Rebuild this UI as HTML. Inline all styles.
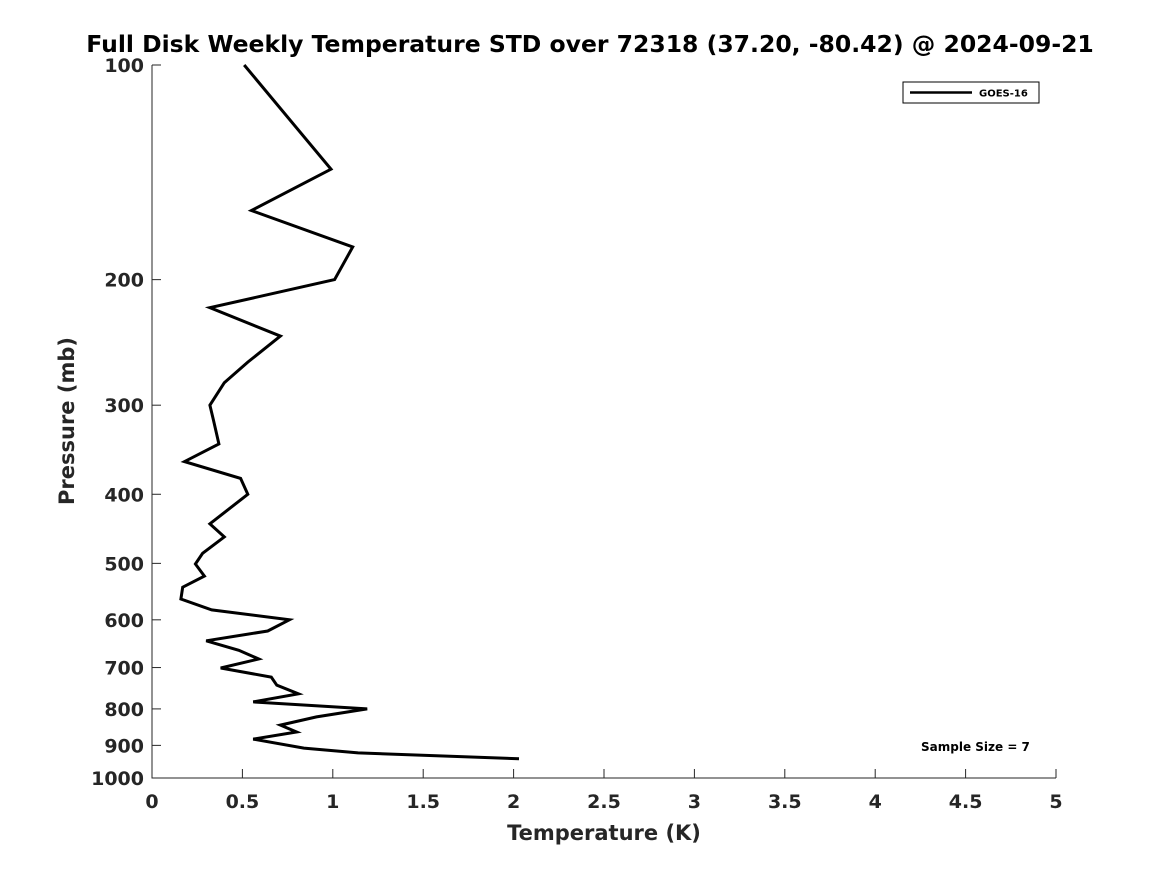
<!DOCTYPE html>
<html><head><meta charset="utf-8"><style>
html,body{margin:0;padding:0;background:#fff;}
svg{display:block;font-family:"DejaVu Sans","Liberation Sans",sans-serif;font-weight:bold;}
</style></head><body>
<svg id="chart" width="1167" height="875" viewBox="0 0 1167 875" xmlns="http://www.w3.org/2000/svg">
<rect width="1167" height="875" fill="#fff"/>
<text x="590" y="52" text-anchor="middle" font-size="23.5" fill="#000">Full Disk Weekly Temperature STD over 72318 (37.20, -80.42) @ 2024-09-21</text>
<g id="axes"></g>
<text x="604" y="840" text-anchor="middle" font-size="21" fill="#262626">Temperature (K)</text>
<text transform="translate(74,421) rotate(-90)" text-anchor="middle" font-size="21" fill="#262626">Pressure (mb)</text>
<g>
<rect x="903" y="82" width="136" height="21" fill="#fff" stroke="#000" stroke-width="1"/>
<line x1="910" y1="92.5" x2="972" y2="92.5" stroke="#000" stroke-width="2.5"/>
<text x="979" y="96.5" font-size="10" fill="#000">GOES-16</text>
</g>
<text x="921" y="751" font-size="12" fill="#000">Sample Size = 7</text>
</svg>
<script>
const temps = [0.51,0.99,0.55,1.11,1.01,0.32,0.71,0.53,0.40,0.32,0.34,0.37,0.18,0.49,0.53,0.32,0.40,0.28,0.24,0.29,0.17,0.16,0.33,0.76,0.64,0.30,0.48,0.59,0.38,0.66,0.69,0.81,0.56,1.19,0.91,0.71,0.80,0.56,0.84,1.14,2.03];
const pressures = [100,140,160,180,200,219,240,261,279,300,315,340,360,380,400,440,459,484,501,521,540,561,581,600,622,642,662,681,701,722,741,762,782,800,821,843,862,882,908,922,940];
const xTicks = [0,0.5,1,1.5,2,2.5,3,3.5,4,4.5,5];
const xTickLabels = ["0","0.5","1","1.5","2","2.5","3","3.5","4","4.5","5"];
const yTicks = [100,200,300,400,500,600,700,800,900,1000];
const yTickLabels = ["100","200","300","400","500","600","700","800","900","1000"];

const X0=152,X1=1056,Y0=65,Y1=778;
function xs(v){return X0+(v-0)/(5-0)*(X1-X0);}
function ys(p){return Y0+(Math.log10(p)-2)/(3-2)*(Y1-Y0);}
const NS="http://www.w3.org/2000/svg";
const g=document.getElementById('axes');
function mk(tag,attrs){const e=document.createElementNS(NS,tag);for(const k in attrs)e.setAttribute(k,attrs[k]);g.appendChild(e);return e;}

let ax=mk('path',{d:`M${X0},${Y0}V${Y1}H${X1}`,fill:'none',stroke:'#262626','stroke-width':1});



xTicks.forEach((t,i)=>{
  const x=xs(t);
  const l=mk('line',{x1:x,y1:Y1,x2:x,y2:Y1-9,stroke:'#262626','stroke-width':1});
  
  
  const tx=mk('text',{x:x,y:Y1+30,'text-anchor':'middle','font-size':19,fill:'#262626'});
  tx.textContent=xTickLabels[i];
  
  
});
yTicks.forEach((t,i)=>{
  const y=ys(t);
  const l=mk('line',{x1:X0,y1:y,x2:X0+9,y2:y,stroke:'#262626','stroke-width':1});
  
  
  const tx=mk('text',{x:X0-8,y:y+7,'text-anchor':'end','font-size':19,fill:'#262626'});
  tx.textContent=yTickLabels[i];
  
  
});
const pts=temps.map((t,i)=>xs(t).toFixed(1)+','+ys(pressures[i]).toFixed(1)).join(' ');
const line=mk('polyline',{points:pts,fill:'none',stroke:'#000','stroke-width':3,'stroke-linejoin':'miter'});


</script>
</body></html>
